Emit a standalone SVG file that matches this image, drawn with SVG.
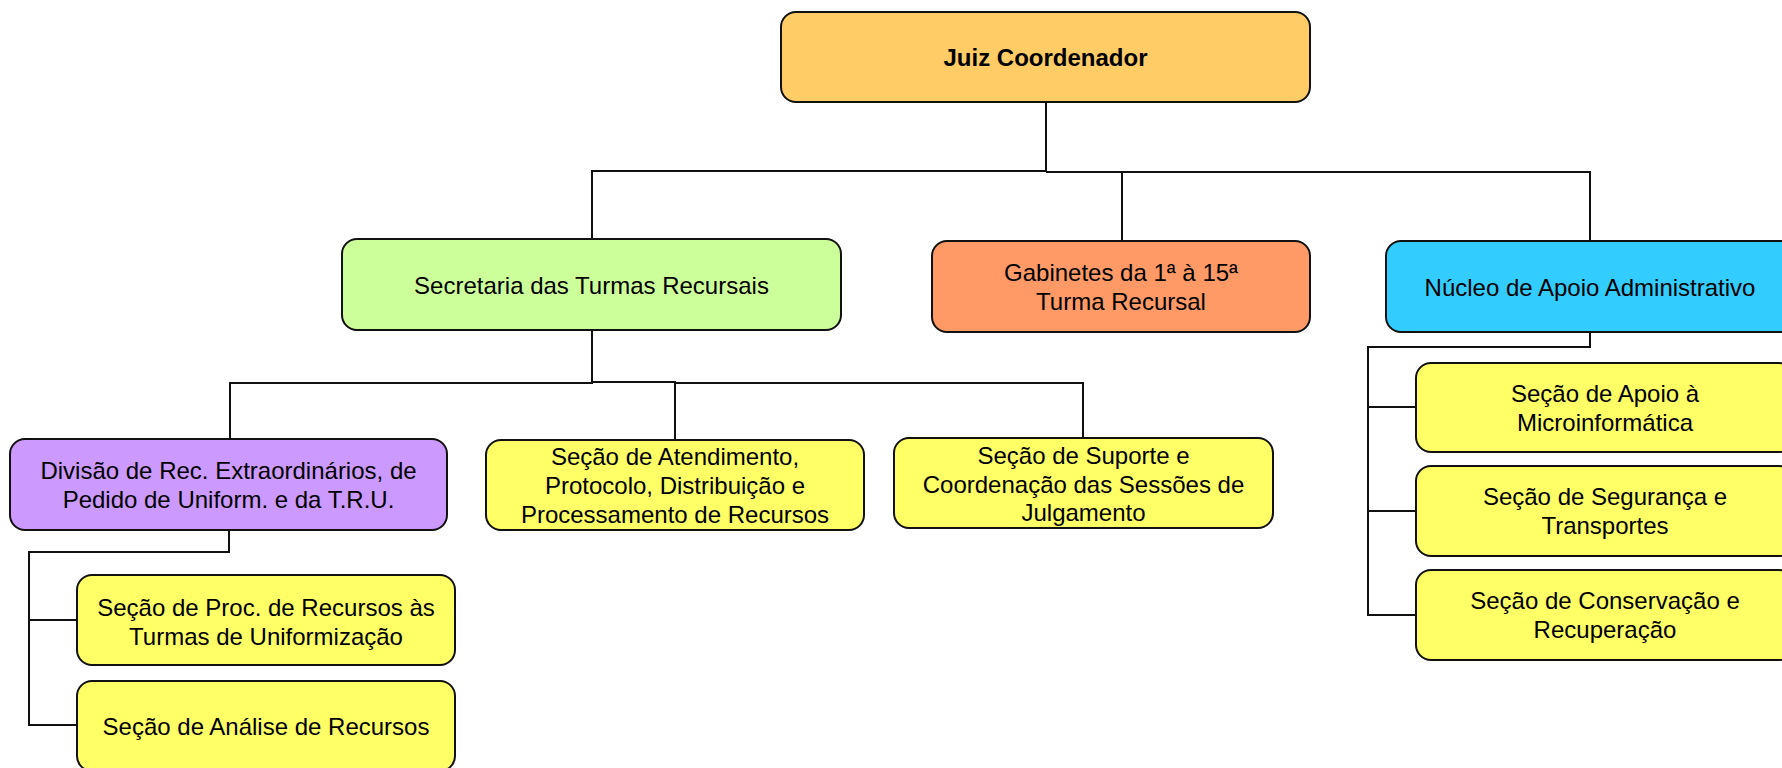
<svg xmlns="http://www.w3.org/2000/svg" width="1782" height="768" viewBox="0 0 1782 768">
<style>
.box{stroke:#111;stroke-width:2}
.t{font-family:"Liberation Sans",Arial,sans-serif;font-size:24px;fill:#000;text-anchor:middle}
.b{font-weight:bold}
.c{fill:none;stroke:#111;stroke-width:2}
.y{fill:#FFFF66}
</style>
<rect width="1782" height="768" fill="#fff"/>
<g id="connectors">
<path class="c" d="M1046,102 V171 H592 V239"/>
<path class="c" d="M1046,172 H1590 V241"/>
<path class="c" d="M1122,172 V241"/>
<path class="c" d="M592,330 V383 H230 V439"/>
<path class="c" d="M592,382 H675 V440"/>
<path class="c" d="M675,383 H1083 V438"/>
<path class="c" d="M229,530 V552 H29 V725 H77"/>
<path class="c" d="M29,620 H77"/>
<path class="c" d="M1590,332 V347 H1368 V615 H1416"/>
<path class="c" d="M1368,407 H1416"/>
<path class="c" d="M1368,511 H1416"/>
</g>
<g id="juiz">
<rect class="box" x="781" y="12" width="529" height="90" rx="15" fill="#FFCC66"/>
<text class="t b" x="1045.5" y="66">Juiz Coordenador</text>
</g>
<g id="secretaria">
<rect class="box" x="342" y="239" width="499" height="91" rx="15" fill="#CCFF99"/>
<text class="t" x="591.5" y="294">Secretaria das Turmas Recursais</text>
</g>
<g id="gabinetes">
<rect class="box" x="932" y="241" width="378" height="91" rx="15" fill="#FF9966"/>
<text class="t" x="1121" y="281">Gabinetes da 1ª à 15ª</text>
<text class="t" x="1121" y="310">Turma Recursal</text>
</g>
<g id="nucleo">
<rect class="box" x="1386" y="241" width="410" height="91" rx="15" fill="#33CCFF"/>
<text class="t" x="1590" y="296">Núcleo de Apoio Administrativo</text>
</g>
<g id="divisao">
<rect class="box" x="10" y="439" width="437" height="91" rx="15" fill="#CC99FF"/>
<text class="t" x="228.5" y="479">Divisão de Rec. Extraordinários, de</text>
<text class="t" x="228.5" y="508">Pedido de Uniform. e da T.R.U.</text>
</g>
<g id="atendimento">
<rect class="box y" x="486" y="440" width="378" height="90" rx="15"/>
<text class="t" x="675" y="465">Seção de Atendimento,</text>
<text class="t" x="675" y="494">Protocolo, Distribuição e</text>
<text class="t" x="675" y="523">Processamento de Recursos</text>
</g>
<g id="suporte">
<rect class="box y" x="894" y="438" width="379" height="90" rx="15"/>
<text class="t" x="1083.5" y="464">Seção de Suporte e</text>
<text class="t" x="1083.5" y="493">Coordenação das Sessões de</text>
<text class="t" x="1083.5" y="521">Julgamento</text>
</g>
<g id="proc">
<rect class="box y" x="77" y="575" width="378" height="90" rx="15"/>
<text class="t" x="266" y="616">Seção de Proc. de Recursos às</text>
<text class="t" x="266" y="645">Turmas de Uniformização</text>
</g>
<g id="analise">
<rect class="box y" x="77" y="681" width="378" height="90" rx="15"/>
<text class="t" x="266" y="735">Seção de Análise de Recursos</text>
</g>
<g id="apoio">
<rect class="box y" x="1416" y="363" width="378" height="89" rx="15"/>
<text class="t" x="1605" y="402">Seção de Apoio à</text>
<text class="t" x="1605" y="431">Microinformática</text>
</g>
<g id="seguranca">
<rect class="box y" x="1416" y="466" width="378" height="90" rx="15"/>
<text class="t" x="1605" y="505">Seção de Segurança e</text>
<text class="t" x="1605" y="534">Transportes</text>
</g>
<g id="conservacao">
<rect class="box y" x="1416" y="570" width="378" height="90" rx="15"/>
<text class="t" x="1605" y="609">Seção de Conservação e</text>
<text class="t" x="1605" y="638">Recuperação</text>
</g>
</svg>
